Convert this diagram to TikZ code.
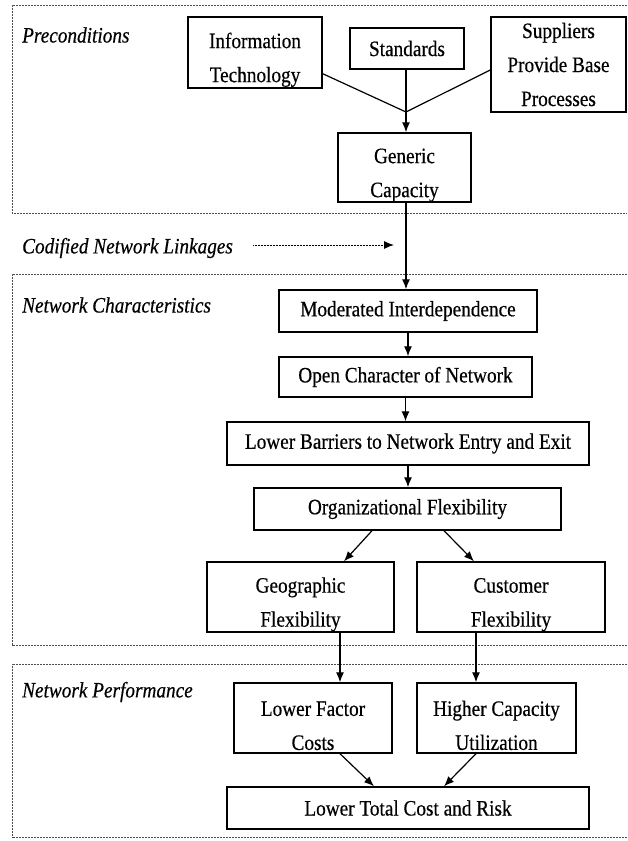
\documentclass[tikz,border=0pt]{standalone}
\usepackage{fontspec}
\setmainfont{Liberation Serif}[FakeStretch=0.875,FakeBold=0.4]
\usetikzlibrary{arrows.meta,calc}
\newcommand\dfont{\fontsize{22}{34}\selectfont}
\newcommand\dn{\rule{0pt}{30pt}}
\begin{document}
\begin{tikzpicture}[x=1pt,y=-1pt,
  box/.style={draw, line width=1.4pt, inner sep=0pt, align=center, font=\dfont},
  lbl/.style={anchor=west, inner sep=0pt, font=\dfont\itshape},
  conn/.style={line width=1.2pt, -{Latex[length=10pt,width=8pt]}},
  plainln/.style={line width=1.2pt},
  area/.style={draw=black!70, line width=0.9pt, dash pattern=on 0.8pt off 0.7pt},
]
\useasboundingbox (0,0) rectangle (627,841);
\fill[white] (0,0) rectangle (627,841);

% section frames
\draw[area] (627,5) -- (12,5) -- (12,213) -- (627,213);
\draw[area] (627,274) -- (12,274) -- (12,645) -- (627,645);
\draw[area] (627,664) -- (12,664) -- (12,837) -- (627,837);

% section labels
\node[lbl] (pre) at (22,35) {Preconditions};
\node[lbl] (cod) at (22,248) {Codified Network Linkages};
\node[lbl] (nch) at (22,305) {Network Characteristics};
\node[lbl] (npf) at (22,692) {Network Performance};

% boxes
\node[box, minimum width=134pt, minimum height=71pt] (it) at (255,52.5) {\dn Information\\Technology};
\node[box, minimum width=114pt, minimum height=41pt] (std) at (407,48.5) {Standards};
\node[box, minimum width=135pt, minimum height=95pt] (sup) at (558.5,64.5) {Suppliers\\Provide Base\\Processes};
\node[box, minimum width=133pt, minimum height=69pt] (gen) at (404.5,167.5) {\dn Generic\\Capacity};
\node[box, minimum width=258pt, minimum height=42pt] (mod) at (408,311) {Moderated Interdependence};
\node[box, minimum width=253pt, minimum height=40pt] (open) at (405.5,377) {Open Character of Network};
\node[box, minimum width=362pt, minimum height=43pt] (lb) at (408,443.5) {Lower Barriers to Network Entry and Exit};
\node[box, minimum width=307pt, minimum height=42pt] (of) at (407.5,509) {Organizational Flexibility};
\node[box, minimum width=187pt, minimum height=70pt] (geo) at (300.5,597) {\dn Geographic\\Flexibility};
\node[box, minimum width=188pt, minimum height=70pt] (cust) at (511,597) {\dn Customer\\Flexibility};
\node[box, minimum width=158pt, minimum height=70pt] (lf) at (313,718) {\dn Lower Factor\\Costs};
\node[box, minimum width=159pt, minimum height=70pt] (hc) at (496.5,718) {\dn Higher Capacity\\Utilization};
\node[box, minimum width=362pt, minimum height=42pt] (lt) at (408,808) {Lower Total Cost and Risk};

% connectors
\coordinate (J) at (406,112);
\draw[plainln] ($(it.south east)+(0,-15)$) -- (J);
\draw[plainln] ($(sup.west)+(0,5.5)$) -- (J);
\draw[plainln] (std.south -| J) -- (J);
\draw[conn] (J) -- (J |- gen.north);
\draw[conn] (gen.south -| J) -- (J |- mod.north);
\draw[conn] (mod.south) -- (mod.south |- open.north);
\draw[conn] (open.south) -- (open.south |- lb.north);
\draw[conn] (lb.south) -- (lb.south |- of.north);
\draw[conn] ($(of.south)+(-35.5,0)$) -- ($(geo.north)+(43.5,0)$);
\draw[conn] ($(of.south)+(36.5,0)$) -- ($(cust.north)+(-37,0)$);
\coordinate (g1) at ($(geo.south)+(39.5,0)$);
\draw[conn] (g1) -- (g1 |- lf.north);
\coordinate (c1) at ($(cust.south)+(-35,0)$);
\draw[conn] (c1) -- (c1 |- hc.north);
\draw[conn] ($(lf.south)+(27,0)$) -- ($(lt.north)+(-34,0)$);
\draw[conn] ($(hc.south)+(-20.5,0)$) -- ($(lt.north)+(36,0)$);

% codified linkage arrow
\coordinate (ctip) at (394,245);
\draw[line width=1pt, dash pattern=on 0.8pt off 0.7pt, -{Latex[length=10pt,width=8pt]}] ($(cod.east)+(20,-3)$) -- (ctip);
\end{tikzpicture}
\end{document}
